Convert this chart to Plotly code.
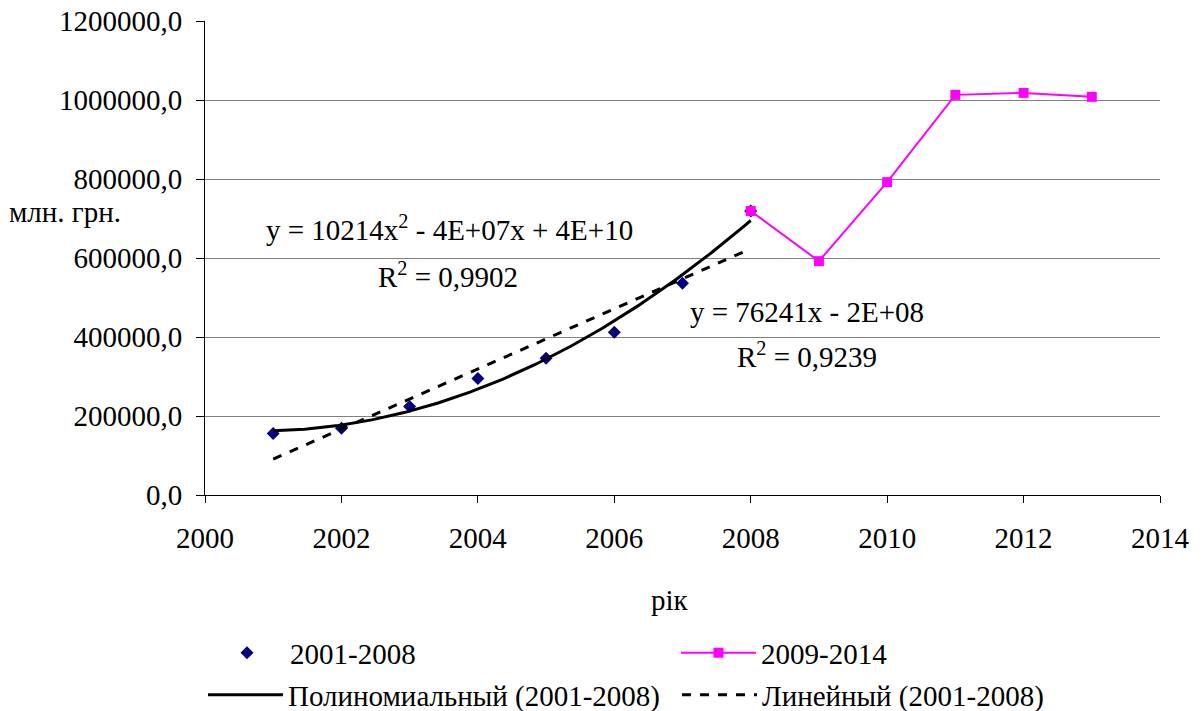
import numpy as np
import plotly.graph_objects as go

# ---- data ----
years_a = [2001, 2002, 2003, 2004, 2005, 2006, 2007, 2008]
values_a = [156000, 169000, 224000, 295000, 346000, 412000, 536000, 719000]
years_b = [2008, 2009, 2010, 2011, 2012, 2013]
values_b = [719000, 592000, 792000, 1013000, 1018000, 1008000]
y_tick_vals = [0, 200000, 400000, 600000, 800000, 1000000, 1200000]
y_tick_text = ["0,0", "200000,0", "400000,0", "600000,0", "800000,0", "1000000,0", "1200000,0"]
x_tick_vals = [2000, 2002, 2004, 2006, 2008, 2010, 2012, 2014]

FONT = "Liberation Serif, Times New Roman, serif"
FS = 29

# trendlines fitted from series 2001-2008
xa = np.array(years_a, dtype=float)
ya = np.array(values_a, dtype=float)
xt = np.linspace(2001, 2008, 200)
c2 = np.polyfit(xa - 2000, ya, 2)
poly_y = np.polyval(c2, xt - 2000)
c1 = np.polyfit(xa - 2000, ya, 1)
lin_y = np.polyval(c1, xt - 2000)

fig = go.Figure()
fig.add_trace(go.Scatter(x=years_a, y=values_a, mode="markers", name="2001-2008",
                         marker=dict(symbol="diamond", size=10, color="#000080"),
                         legend="legend"))
fig.add_trace(go.Scatter(x=xt, y=poly_y, mode="lines", name="Полиномиальный (2001-2008)",
                         line=dict(color="black", width=3), legend="legend3"))
fig.add_trace(go.Scatter(x=xt, y=lin_y, mode="lines", name="Линейный (2001-2008)",
                         line=dict(color="black", width=3, dash="dash"), legend="legend4"))
fig.add_trace(go.Scatter(x=years_b, y=values_b, mode="lines+markers", name="2009-2014",
                         line=dict(color="#FF00FF", width=2),
                         marker=dict(symbol="square", size=10, color="#FF00FF"),
                         legend="legend2"))

# page has an 8px body margin; work in screen pixels and convert
OFF = 8
W, H = 1203 - OFF, 711 - OFF
L, R, T, B = 205 - OFF, 43, 21 - OFF, 216
pw = W - L - R
ph = H - T - B

def px(xpix):
    return (xpix - OFF - L) / pw

def py(ypix):
    return (H - B - (ypix - OFF)) / ph

def leg(x0, yc, iw):
    return dict(x=px(x0), y=py(yc), xanchor="left", yanchor="middle",
                bgcolor="rgba(0,0,0,0)", borderwidth=0, itemwidth=iw,
                font=dict(family=FONT, size=FS, color="black"), orientation="h")

def ann(text, x, y, xref="x", yref="y"):
    return dict(text=text, x=x, y=y, xref=xref, yref=yref, showarrow=False,
                xanchor="center", yanchor="middle", font=dict(family=FONT, size=FS))

fig.update_layout(
    width=W, height=H,
    margin=dict(l=L, r=R, t=T, b=B, autoexpand=False),
    paper_bgcolor="white", plot_bgcolor="white",
    font=dict(family=FONT, size=FS, color="black"),
    hovermode=False,
    showlegend=True,
    legend=leg(204, 653, 76),
    legend2=leg(676, 653, 75),
    legend3=leg(203, 695, 75),
    legend4=leg(677, 695, 75),
    xaxis=dict(range=[2000, 2014], tickvals=x_tick_vals, showgrid=False, zeroline=False,
               showline=True, linecolor="black", linewidth=1, ticks="outside",
               ticklen=7, tickcolor="black", ticklabelstandoff=10,
               ticklabeloverflow="allow",
               tickfont=dict(family=FONT, size=FS)),
    yaxis=dict(range=[0, 1200000], tickvals=y_tick_vals, ticktext=y_tick_text,
               showgrid=True, gridcolor="#808080", gridwidth=1, zeroline=False,
               showline=True, linecolor="black", linewidth=1, ticks="outside",
               ticklen=8, tickcolor="black", ticklabelstandoff=8,
               ticklabeloverflow="allow",
               tickfont=dict(family=FONT, size=FS)),
    annotations=[
        ann("y = 10214x<sup>2</sup> - 4E+07x + 4E+10", 2003.59, 676000),
        ann("R<sup>2</sup> = 0,9902", 2003.56, 557000),
        ann("y = 76241x - 2E+08", 2008.83, 463000),
        ann("R<sup>2</sup> = 0,9239", 2008.83, 354000),
        ann("млн. грн.", px(65), py(212), "paper", "paper"),
        ann("рік", px(670), py(600), "paper", "paper"),
    ],
)

fig.write_html("out.html")
